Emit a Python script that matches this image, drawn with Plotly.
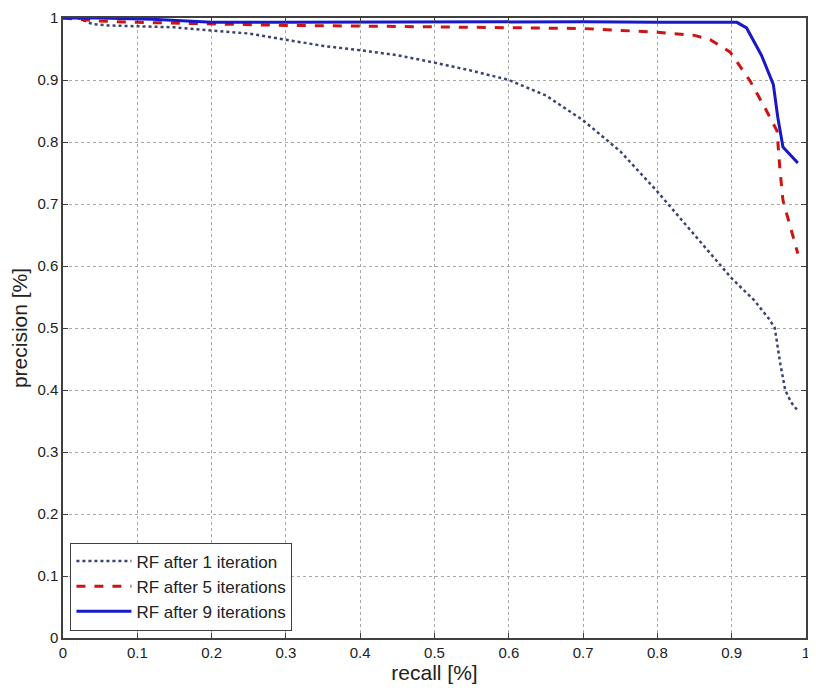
import plotly.graph_objects as go

# ---- data ----
rf1_recall = [0.02, 0.03, 0.04, 0.06, 0.1, 0.15, 0.2, 0.25, 0.3, 0.35, 0.4, 0.45, 0.5, 0.55,
              0.6, 0.65, 0.7, 0.75, 0.8, 0.85, 0.9, 0.93, 0.95, 0.958, 0.965, 0.972, 0.98, 0.988]
rf1_precision = [1.0, 0.995, 0.99, 0.988, 0.987, 0.985, 0.98, 0.975, 0.965, 0.955, 0.948, 0.94,
                 0.928, 0.915, 0.9, 0.875, 0.835, 0.785, 0.72, 0.65, 0.58, 0.545, 0.515, 0.5,
                 0.445, 0.4, 0.38, 0.368]

rf5_recall = [0.0, 0.05, 0.1, 0.2, 0.3, 0.4, 0.5, 0.6, 0.7, 0.75, 0.8, 0.85, 0.871, 0.898,
              0.925, 0.947, 0.961, 0.965, 0.969, 0.975, 0.982, 0.989]
rf5_precision = [1.0, 0.995, 0.993, 0.99, 0.988, 0.987, 0.986, 0.985, 0.983, 0.98, 0.977, 0.972,
                 0.965, 0.945, 0.898, 0.85, 0.818, 0.754, 0.706, 0.68, 0.65, 0.62]

rf9_recall = [0.0, 0.05, 0.12, 0.2, 0.3, 0.5, 0.7, 0.8, 0.9, 0.907, 0.92, 0.94, 0.956, 0.962,
              0.969, 0.989]
rf9_precision = [1.0, 1.0, 0.998, 0.993, 0.993, 0.994, 0.994, 0.993, 0.993, 0.993, 0.984, 0.94,
                 0.893, 0.84, 0.792, 0.766]

tick_vals = [0, 0.1, 0.2, 0.3, 0.4, 0.5, 0.6, 0.7, 0.8, 0.9, 1]
tick_text = ["0", "0.1", "0.2", "0.3", "0.4", "0.5", "0.6", "0.7", "0.8", "0.9", "1"]

names = ["RF after 1 iteration", "RF after 5 iterations", "RF after 9 iterations"]

fig = go.Figure()
fig.add_trace(go.Scatter(x=rf1_recall, y=rf1_precision, mode="lines", name=names[0],
                         line=dict(color="#3a4470", width=2.5, dash="dot")))
fig.add_trace(go.Scatter(x=rf5_recall, y=rf5_precision, mode="lines", name=names[1],
                         line=dict(color="#cc1414", width=3, dash="dash")))
fig.add_trace(go.Scatter(x=rf9_recall, y=rf9_precision, mode="lines", name=names[2],
                         line=dict(color="#1818c8", width=3)))

axis_common = dict(
    range=[0, 1], tickvals=tick_vals, ticktext=tick_text, automargin=False,
    ticklabeloverflow="allow",
    showgrid=True, gridcolor="#a8a8a8", griddash="dot", gridwidth=1,
    showline=True, linecolor="#404040", linewidth=1.5, mirror="ticks",
    ticks="inside", ticklen=5, tickcolor="#404040",
    zeroline=False, tickfont=dict(family="Liberation Sans", size=15, color="#222"),
)

fig.update_layout(
    width=808, height=692,
    margin=dict(l=55, r=10, t=10, b=62),
    paper_bgcolor="white", plot_bgcolor="white",
    font=dict(family="Liberation Sans", color="#222"),
    xaxis=dict(**axis_common, title=dict(text="recall [%]", font=dict(size=21), standoff=4)),
    yaxis=dict(**axis_common, title=dict(text="precision [%]", font=dict(size=21), standoff=6)),
    legend=dict(x=0.01, y=0.012, xanchor="left", yanchor="bottom",
                bgcolor="white", bordercolor="#404040", borderwidth=1,
                itemwidth=55,
                font=dict(size=17, family="Liberation Sans"), tracegroupgap=0),
    showlegend=True,
)

fig.write_html("out.html")
